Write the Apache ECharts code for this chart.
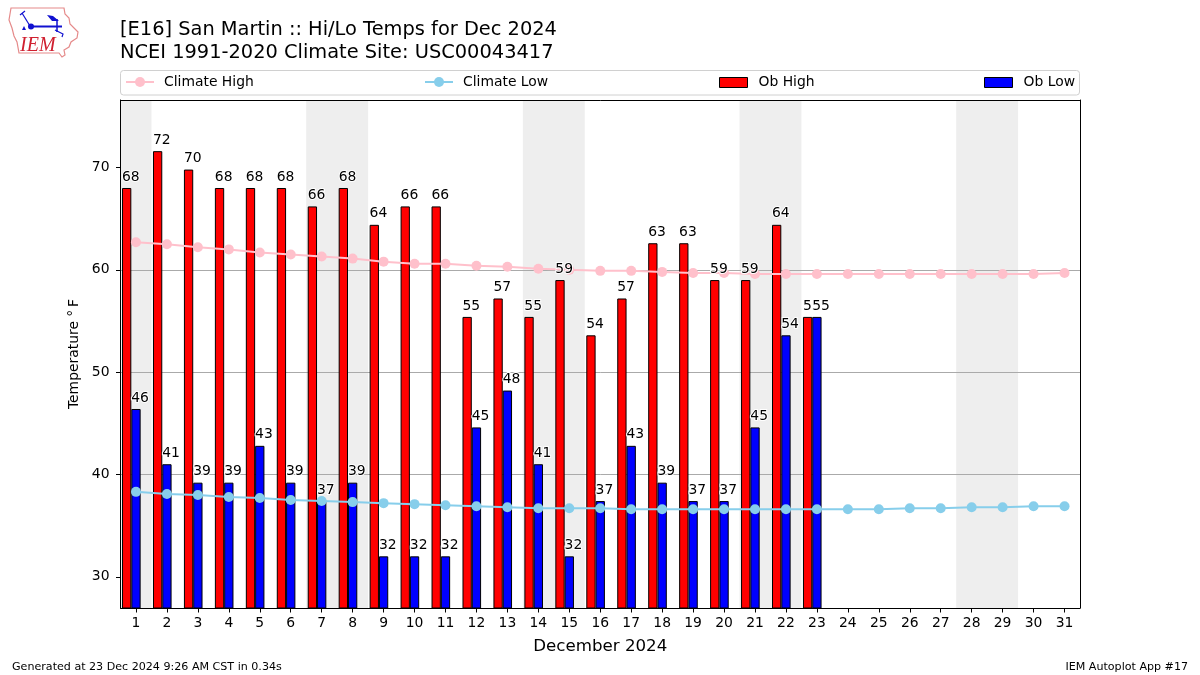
<!DOCTYPE html>
<html><head><meta charset="utf-8">
<style>html,body{margin:0;padding:0;background:#fff}#c{width:1200px;height:675px}</style>
<script src="https://cdn.jsdelivr.net/npm/echarts@6/dist/echarts.min.js"></script>
</head><body><div id="c"></div>
<script>
var days = ['1','2','3','4','5','6','7','8','9','10','11','12','13','14','15','16','17','18','19','20','21','22','23','24','25','26','27','28','29','30','31'];
var obHigh = [68,71.6,69.8,68,68,68,66.2,68,64.4,66.2,66.2,55.4,57.2,55.4,59,53.6,57.2,62.6,62.6,59,59,64.4,55.4];
var obLow = [46.4,41,39.2,39.2,42.8,39.2,37.4,39.2,32,32,32,44.6,48.2,41,32,37.4,42.8,39.2,37.4,37.4,44.6,53.6,55.4];
var climateHigh = [62.7,62.5,62.2,62,61.7,61.5,61.3,61.1,60.8,60.6,60.6,60.4,60.3,60.1,60,59.9,59.9,59.8,59.7,59.7,59.6,59.6,59.6,59.6,59.6,59.6,59.6,59.6,59.6,59.6,59.7];
var climateLow = [38.3,38.1,38,37.8,37.7,37.5,37.4,37.3,37.2,37.1,37,36.9,36.8,36.7,36.7,36.7,36.6,36.6,36.6,36.6,36.6,36.6,36.6,36.6,36.6,36.7,36.7,36.8,36.8,36.9,36.9];
var weekendSpans = [[0.5,1.5],[6.5,8.5],[13.5,15.5],[20.5,22.5],[27.5,29.5]];
var yTicks = [30,40,50,60,70];
var yMin = 26.95, yMax = 76.6;

var font = 'DejaVu Sans';
var chart = echarts.init(document.getElementById('c'), null, {renderer:'canvas'});

function legendAt(name, left, isBar){
  return {
    data:[isBar ? {name:name, icon:'rect', itemStyle:{borderWidth:1, borderColor:'#000'}} : {name:name}],
    left:left, top:isBar ? 75.5 : 75, padding:0,
    itemWidth:28, itemHeight:isBar ? 10 : 12.5, selectedMode:false,
    textStyle:{fontFamily:font, fontSize:13.9, color:'#000', padding:[0,0,0,isBar ? 6 : 5]}
  };
}
function labelSeries(name, values, dx){
  return {
    name:name, type:'line', data:values, z:6, silent:true,
    symbol:'circle', symbolSize:0, showSymbol:true, lineStyle:{opacity:0}, itemStyle:{opacity:0},
    label:{
      show:true, position:'top', distance:4, offset:[dx,0], align:'left',
      fontFamily:font, fontSize:13.9, color:'#000', opacity:1,
      textBorderColor:'#fff', textBorderWidth:2,
      formatter:function(p){return String(Math.round(p.value));}
    }
  };
}
var iowa = [[11,8],[64,8],[65,14],[69,18],[70,24],[78,32],[77,38],[71,42],[69,47],[64,50],[65,55],[62,57],[59,53],[19,53],[17,42],[14,36],[12,28],[9,20]];
var blue = '#1010d0';

chart.setOption({
  animation:false,
  backgroundColor:'#fff',
  title:[{
    text:'[E16] San Martin :: Hi/Lo Temps for Dec 2024\nNCEI 1991-2020 Climate Site: USC00043417',
    left:120, top:19, padding:0,
    textStyle:{fontFamily:font, fontSize:19.4, fontWeight:'normal', color:'#000', lineHeight:22.5}
  }],
  legend:[
    legendAt('Climate High',125,false),
    legendAt('Climate Low',424,false),
    legendAt('Ob High',719,true),
    legendAt('Ob Low',984,true)
  ],
  grid:{left:120.5, right:120, top:100, bottom:67, containLabel:false, show:false},
  xAxis:[{
    type:'category', data:days, boundaryGap:true,
    name:'December 2024', nameLocation:'middle', nameGap:30,
    nameTextStyle:{fontFamily:font, fontSize:16.67, color:'#000'},
    axisLine:{show:true, lineStyle:{color:'#000', width:1}, onZero:false},
    axisTick:{show:true, alignWithLabel:true, length:4.5, lineStyle:{color:'#000'}},
    axisLabel:{interval:0, fontFamily:font, fontSize:13.9, color:'#000', margin:8},
    splitLine:{show:false}
  },{
    type:'value', min:0.5, max:31.5, show:true, position:'top',
    axisLine:{show:true, onZero:false, lineStyle:{color:'#000', width:1}},
    axisTick:{show:false}, axisLabel:{show:false}, splitLine:{show:false}
  }],
  yAxis:[{
    type:'value', min:yMin, max:yMax,
    name:'Temperature \u00b0\u2009F', nameLocation:'middle', nameGap:36,
    nameTextStyle:{fontFamily:font, fontSize:13.9, color:'#000'},
    axisLine:{show:true, lineStyle:{color:'#000', width:1}, onZero:false},
    axisTick:{show:true, length:4.5, lineStyle:{color:'#000'}, customValues:yTicks},
    axisLabel:{fontFamily:font, fontSize:13.9, color:'#000', margin:11, padding:[0,0,2,0], customValues:yTicks},
    splitLine:{show:true, lineStyle:{color:'#aaaaaa', width:1}, customValues:yTicks, showMinLine:false, showMaxLine:false}
  },{
    type:'value', min:yMin, max:yMax, position:'right', show:true,
    axisLine:{show:true, onZero:false, lineStyle:{color:'#000', width:1}},
    axisTick:{show:false}, axisLabel:{show:false}, splitLine:{show:false}
  }],
  series:[
    {
      name:'Weekend', type:'custom', xAxisIndex:1, yAxisIndex:0, z:-1, silent:true,
      data:weekendSpans, encode:{x:[0,1]},
      renderItem:function(params, api){
        var a = api.coord([api.value(0), yMax]);
        var b = api.coord([api.value(1), yMin]);
        return {type:'rect', shape:{x:a[0], y:a[1], width:b[0]-a[0], height:b[1]-a[1]}, style:{fill:'#eeeeee'}};
      }
    },
    {name:'Ob High', type:'bar', data:obHigh, barWidth:9.3, barGap:0, z:2,
     itemStyle:{color:'#ff0000', borderColor:'#000', borderWidth:1}},
    {name:'Ob Low', type:'bar', data:obLow, barWidth:9.3, barGap:0, z:2,
     itemStyle:{color:'#0000ff', borderColor:'#000', borderWidth:1}},
    {name:'Spacer', type:'bar', data:[], barWidth:9.3, barGap:0},
    {name:'Climate High', type:'line', data:climateHigh, z:3, symbol:'circle', symbolSize:10,
     lineStyle:{color:'#ffc0cb', width:2}, itemStyle:{color:'#ffc0cb'}},
    {name:'Climate Low', type:'line', data:climateLow, z:3, symbol:'circle', symbolSize:10,
     lineStyle:{color:'#87ceeb', width:2}, itemStyle:{color:'#87ceeb'}},
    labelSeries('Ob High labels', obHigh, -14),
    labelSeries('Ob Low labels', obLow, -4.7)
  ],
  graphic:[
    {type:'rect', z:-5, silent:true, shape:{x:120.5, y:70.5, width:959, height:24.5, r:3}, style:{fill:'#fff', stroke:'#d0d0d0', lineWidth:1}},
    {type:'polygon', silent:true, shape:{points:iowa}, style:{fill:'none', stroke:'#e58a8a', lineWidth:1.2}},
    {type:'text', silent:true, style:{x:20, y:36, text:'IEM', fontFamily:'Liberation Serif', fontStyle:'italic', fontSize:20, fill:'#d02030'}},
    {type:'polyline', silent:true, shape:{points:[[30,26.5],[62,26.5]]}, style:{stroke:blue, fill:'none', lineWidth:2}},
    {type:'polyline', silent:true, shape:{points:[[57,19],[57,32]]}, style:{stroke:blue, fill:'none', lineWidth:1.5}},
    {type:'polyline', silent:true, shape:{points:[[30,26],[22,13]]}, style:{stroke:blue, fill:'none', lineWidth:1.2}},
    {type:'polyline', silent:true, shape:{points:[[20,15],[25,11]]}, style:{stroke:blue, fill:'none', lineWidth:1.2}},
    {type:'circle', silent:true, shape:{cx:31, cy:26.5, r:3}, style:{fill:blue}},
    {type:'polygon', silent:true, shape:{points:[[47,15],[53,16],[59,21],[62,21],[52,21]]}, style:{fill:blue}},
    {type:'polygon', silent:true, shape:{points:[[24,26],[26,30],[22,30]]}, style:{fill:blue}},
    {type:'polyline', silent:true, shape:{points:[[55,30],[63,34],[62,37]]}, style:{stroke:blue, fill:'none', lineWidth:1.2}},
    {type:'text', silent:true, style:{x:12, y:662, text:'Generated at 23 Dec 2024 9:26 AM CST in 0.34s', fontFamily:font, fontSize:11.1, fill:'#000'}},
    {type:'text', silent:true, style:{x:1188, y:662, align:'right', text:'IEM Autoplot App #17', fontFamily:font, fontSize:11.1, fill:'#000'}}
  ]
});
</script></body></html>
